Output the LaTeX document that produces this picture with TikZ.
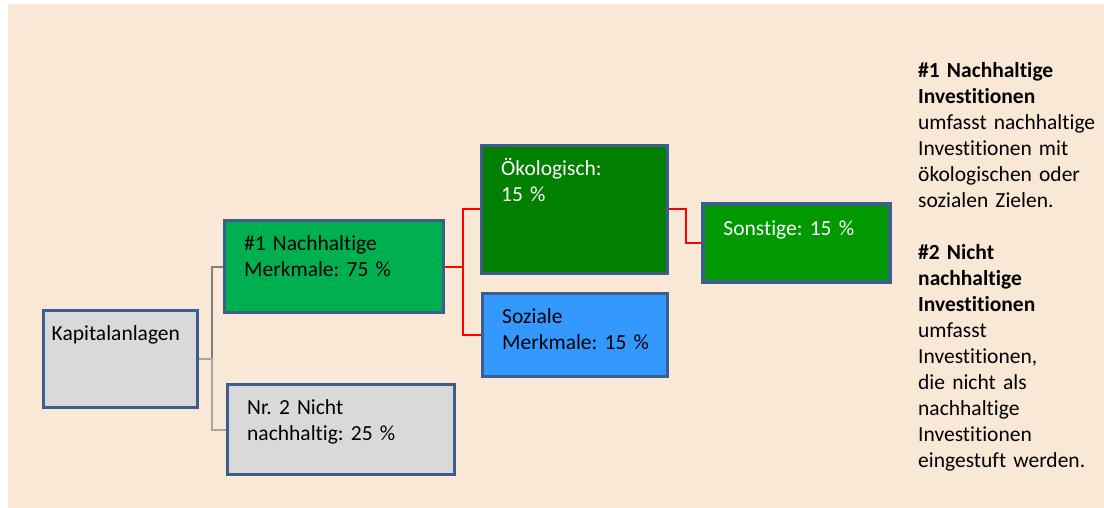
\documentclass[tikz,border=0pt]{standalone}
\usepackage{fontspec}
\setmainfont{Carlito}[Ligatures=CommonOff]
\frenchspacing
\definecolor{bgpeach}{HTML}{FAE8D7}
\definecolor{boxline}{HTML}{3B5E8C}
\definecolor{boxgray}{HTML}{D9D9D9}
\definecolor{nachgreen}{HTML}{00B050}
\definecolor{oekogreen}{HTML}{007F00}
\definecolor{sonstgreen}{HTML}{009900}
\definecolor{sozialblue}{HTML}{3399FF}
\definecolor{linkgray}{HTML}{808080}
\definecolor{linkgraylight}{HTML}{A6A6A6}
\tikzset{
  box/.style={draw=boxline, line width=3pt, rectangle, inner sep=0pt},
  boxtext/.style={anchor=base west, inner sep=0pt, text width=220pt, align=left,
    font=\fontsize{21.5}{26}\selectfont},
}
\begin{document}
\begin{tikzpicture}[x=1pt,y=-1pt]
  \useasboundingbox (0,0) rectangle (1104,508);
  \fill[bgpeach] (8,4) rectangle (1104,508);
  \node[box, fill=boxgray, minimum width=154pt, minimum height=97pt] (kap) at (120.5,359) {};
  \node[box, fill=nachgreen, minimum width=219pt, minimum height=92pt] (nach) at (334,266.5) {};
  \node[box, fill=boxgray, minimum width=227pt, minimum height=90pt] (nicht) at (341,429.5) {};
  \node[box, fill=oekogreen, minimum width=186pt, minimum height=128pt] (oeko) at (574.5,209.5) {};
  \node[box, fill=sozialblue, minimum width=185pt, minimum height=83pt] (sozial) at (575,335) {};
  \node[box, fill=sonstgreen, line width=3.5pt, minimum width=187pt, minimum height=78pt] (sonst) at (796.5,243) {};
  \node[boxtext] (kaptext) at ([xshift=9.5pt,yshift=-31.5pt]kap.north west) {Kapitalanlagen};
  \node[boxtext] (nachtext) at ([xshift=21pt,yshift=-31.5pt]nach.north west) {\#1 Nachhaltige\\Merkmale: 75 \%};
  \node[boxtext] (nichttext) at ([xshift=21pt,yshift=-31pt]nicht.north west) {Nr. 2 Nicht\\nachhaltig: 25 \%};
  \node[boxtext, white] (oekotext) at ([xshift=21pt,yshift=-31.5pt]oeko.north west) {Ökologisch:\\15 \%};
  \node[boxtext] (sozialtext) at ([xshift=21pt,yshift=-31.5pt]sozial.north west) {Soziale\\Merkmale: 15 \%};
  \node[boxtext, white] (sonsttext) at ([xshift=22pt,yshift=-33pt]sonst.north west) {Sonstige: 15 \%};
  \node[boxtext, text width=185pt] (legend) at (918,78) {\textbf{\#1 Nachhaltige}\\
    \textbf{Investitionen}\\
    umfasst nachhaltige\\
    Investitionen mit\\
    ökologischen oder\\
    sozialen Zielen.\\[26pt]
    \textbf{\#2 Nicht}\\
    \textbf{nachhaltige}\\
    \textbf{Investitionen}\\
    umfasst\\
    Investitionen,\\
    die nicht als\\
    nachhaltige\\
    Investitionen\\
    eingestuft werden.};
  \begin{scope}[line width=2pt]
    \draw[linkgray] (kap.east) -- ++(13,0) |- (nach.west);
    \draw[linkgraylight] (kap.east) -- ++(13,0) |- (nicht.west);
    \draw[red] (nach.east) -- ++(18,0) |- (oeko.west);
    \draw[red] (nach.east) -- ++(18,0) |- (sozial.west);
    \draw[red] (oeko.east) -- ++(17,0) |- (sonst.west);
  \end{scope}
\end{tikzpicture}
\end{document}
